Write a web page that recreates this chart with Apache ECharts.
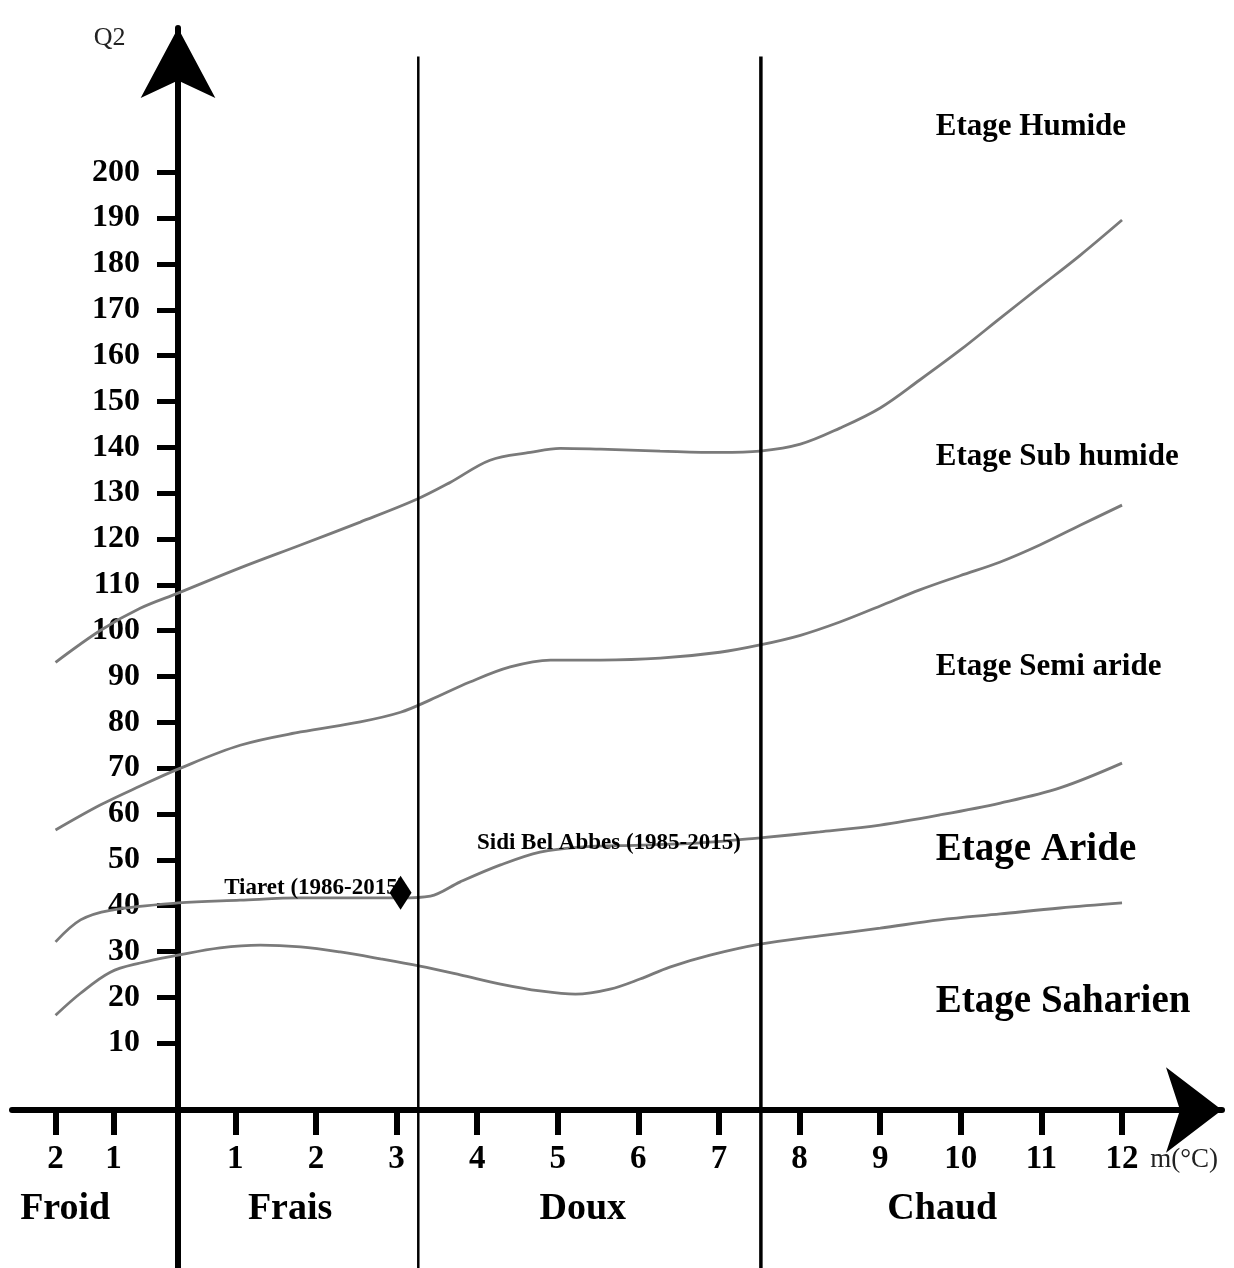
<!DOCTYPE html>
<html><head><meta charset="utf-8">
<script src="https://cdn.jsdelivr.net/npm/echarts@6/dist/echarts.min.js"></script>
<style>html,body{margin:0;padding:0;background:#fff}#c{width:1234px;height:1268px}</style>
</head><body><div id="c"></div>
<script>
// ---- tick values and labels ----
const xTickValues = [-1.23, -0.51, 1, 2, 3, 4, 5, 6, 7, 8, 9, 10, 11, 12];
const xTickLabels = ['2', '1', '1', '2', '3', '4', '5', '6', '7', '8', '9', '10', '11', '12'];
const yTickValues = [10, 20, 30, 40, 50, 60, 70, 80, 90, 100, 110, 120, 130, 140, 150, 160, 170, 180, 190, 200];

// ---- bioclimatic limit curves [m (°C), Q2] ----
const limitHumide = [[-1.23, 93.1], [-0.67, 100.1], [-0.18, 104.9], [0.29, 108.2], [1.06, 113.7], [1.81, 118.7], [2.55, 123.7], [3.23, 128.5], [3.67, 132.4], [4.16, 137.2], [4.66, 138.9], [5.03, 139.8], [5.53, 139.6], [6.27, 139.2], [7.01, 138.9], [7.51, 139.2], [8.01, 140.7], [8.50, 144.2], [9.00, 148.6], [9.49, 154.7], [9.99, 161.2], [10.49, 168.2], [10.98, 175.0], [11.48, 181.9], [12.00, 189.6]];
const limitSubHumide = [[-1.23, 56.5], [-0.67, 62.0], [-0.18, 66.1], [0.29, 69.8], [1.06, 75.0], [1.81, 77.9], [2.55, 80.1], [3.05, 82.2], [3.42, 84.9], [3.91, 88.8], [4.41, 92.1], [4.91, 93.6], [5.53, 93.6], [6.27, 94.0], [7.01, 95.3], [7.51, 96.9], [8.01, 99.0], [8.50, 101.9], [9.00, 105.4], [9.49, 108.9], [9.99, 112.0], [10.49, 115.0], [10.98, 118.7], [11.48, 123.0], [12.00, 127.4]];
const limitSemiAride = [[-1.23, 32.1], [-0.92, 36.9], [-0.55, 39.0], [0.29, 40.6], [1.06, 41.2], [1.81, 41.7], [2.55, 41.7], [3.05, 41.7], [3.42, 42.1], [3.79, 45.2], [4.29, 48.9], [4.78, 51.7], [5.28, 52.8], [6.02, 53.2], [6.77, 53.7], [7.51, 54.8], [8.25, 56.1], [9.00, 57.6], [9.74, 59.8], [10.49, 62.4], [11.23, 65.7], [12.00, 71.1]];
const limitAride = [[-1.23, 16.1], [-0.92, 20.9], [-0.55, 25.5], [-0.18, 27.5], [0.29, 29.2], [0.81, 30.8], [1.31, 31.4], [1.81, 31.0], [2.30, 29.9], [2.80, 28.4], [3.29, 26.8], [3.79, 24.9], [4.29, 22.9], [4.78, 21.4], [5.22, 20.7], [5.65, 21.8], [6.02, 24.0], [6.39, 26.6], [6.89, 29.2], [7.51, 31.6], [8.25, 33.4], [9.00, 35.1], [9.74, 36.9], [10.49, 38.2], [11.23, 39.5], [12.00, 40.6]];

// ---- thermal class boundaries (m, °C) ----
const boundaryFraisDoux = 3.27;
const boundaryDouxChaud = 7.52;

// ---- stations ----
const stationNames = ['Tiaret (1986-2015)', 'Sidi Bel Abbes (1985-2015)'];
const tiaretPoint = [3.05, 42.8];

// ---- text labels ----
const etageNames = ['Etage Humide', 'Etage Sub humide', 'Etage Semi aride', 'Etage Aride', 'Etage Saharien'];
const zoneNames = ['Froid', 'Frais', 'Doux', 'Chaud'];
const axisTitles = ['Q2', 'm(°C)'];

// ---- layout (not data) ----
const X_MIN = -1.77, X_MAX = 13.24, Y_MIN = -39.05, Y_MAX = 231.5, LINE_TOP = 225.3;
const etageAnchors = [[9.69, 209.9, 31], [9.69, 137.9, 31], [9.69, 92.1, 31], [9.69, 52.1, 39], [9.69, 19.0, 39]];
const zoneAnchors = [[-1.11, -26.2], [1.68, -26.2], [5.31, -26.2], [9.77, -26.2]];
const tiaretLabelAnchor = [3.11, 43.8];
const sbaLabelAnchor = [5.635, 53.7];
const unitAnchor = [12.35, -15.5];
const q2Anchor = [-0.56, 229.3];

const SERIF = "'Liberation Serif', 'Times New Roman', serif";
const CURVE = {color: '#7a7a7a', width: 2.8};

function curve(data) {
  return {type: 'line', data: data, smooth: 0.35, symbol: 'none', lineStyle: CURVE, z: 2, silent: true};
}
function vline(m, w) {
  return {type: 'line', data: [[m, Y_MIN], [m, LINE_TOP]], symbol: 'none', clip: false,
    lineStyle: {color: '#000', width: w}, z: 3, silent: true};
}
function textPoints(anchors, texts, pos, style) {
  return {type: 'scatter', symbolSize: 0, silent: true, z: 10, clip: false,
    itemStyle: {opacity: 1},
    data: anchors.map((a, i) => ({value: [a[0], a[1]], label: {formatter: texts[i], fontSize: a[2] || style.fontSize}})),
    label: Object.assign({show: true, position: pos, distance: 0, color: '#000', fontFamily: SERIF, fontWeight: 'bold'}, style)};
}

const chart = echarts.init(document.getElementById('c'));
chart.setOption({
  animation: false,
  backgroundColor: '#fff',
  grid: {left: 12, right: 12, top: 28, bottom: 0, containLabel: false, outerBoundsMode: 'none'},
  xAxis: {
    type: 'value', min: X_MIN, max: X_MAX, position: 'bottom', offset: -158,
    axisLine: {onZero: false, symbol: ['none', 'arrow'], symbolSize: [64, 56], lineStyle: {color: '#000', width: 6}},
    axisTick: {show: true, customValues: xTickValues, length: 25, lineStyle: {color: '#000', width: 6}},
    axisLabel: {show: true, customValues: xTickValues, margin: 33,
      formatter: v => xTickLabels[xTickValues.indexOf(v)],
      fontFamily: SERIF, fontWeight: 'bold', fontSize: 33, color: '#000'},
    splitLine: {show: false}
  },
  yAxis: {
    type: 'value', min: Y_MIN, max: Y_MAX, position: 'left', offset: -166,
    axisLine: {onZero: false, symbol: ['none', 'arrow'], symbolSize: [56, 70], lineStyle: {color: '#000', width: 6}},
    axisTick: {show: true, customValues: yTickValues, length: 21, lineStyle: {color: '#000', width: 5}},
    axisLabel: {show: true, customValues: yTickValues, margin: 38,
      fontFamily: SERIF, fontWeight: 'bold', fontSize: 32, color: '#000'},
    splitLine: {show: false}
  },
  series: [
    curve(limitHumide), curve(limitSubHumide), curve(limitSemiAride), curve(limitAride),
    vline(boundaryFraisDoux, 2.5), vline(boundaryDouxChaud, 3.5),
    textPoints(etageAnchors, etageNames, 'right', {fontSize: 31}),
    textPoints(zoneAnchors, zoneNames, 'inside', {fontSize: 38}),
    textPoints([tiaretLabelAnchor], [stationNames[0]], 'left', {fontSize: 23}),
    textPoints([sbaLabelAnchor], [stationNames[1]], 'inside', {fontSize: 23}),
    textPoints([unitAnchor], [axisTitles[1]], 'right', {fontSize: 27, fontWeight: 'normal', color: '#222'}),
    textPoints([q2Anchor], [axisTitles[0]], 'inside', {fontSize: 26, fontWeight: 'normal', color: '#222'}),
    {type: 'scatter', data: [tiaretPoint], symbol: 'diamond', symbolSize: [22, 34],
      itemStyle: {color: '#000', opacity: 1}, z: 12, silent: true}
  ]
});
</script>
</body></html>
